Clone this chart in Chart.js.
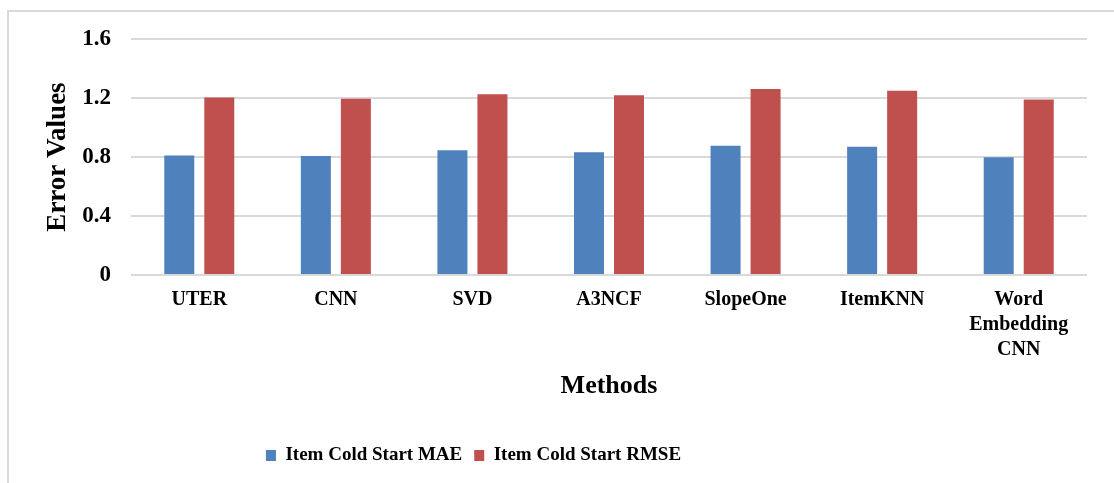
<!DOCTYPE html>
<html>
<head>
<meta charset="utf-8">
<script src="https://cdn.jsdelivr.net/npm/chart.js@4/dist/chart.umd.min.js"></script>
<style>
  html, body { margin: 0; padding: 0; background: #fff; }
  #wrap { position: relative; width: 1114px; height: 483px; overflow: hidden; }
  #frame { position: absolute; left: 7px; top: 10px; width: 1200px; height: 600px;
           border-left: 2px solid #d9d9d9; border-top: 2px solid #d9d9d9; }
  #myChart { position: absolute; left: 0; top: 0; }
</style>
</head>
<body>
<div id="wrap">
  <div id="frame"></div>
  <canvas id="myChart" width="1114" height="483"></canvas>
</div>
<script>
var methods = ['UTER', 'CNN', 'SVD', 'A3NCF', 'SlopeOne', 'ItemKNN', ['Word', 'Embedding', 'CNN']];
var mae = [0.811, 0.806, 0.845, 0.832, 0.877, 0.870, 0.798];
var rmse = [1.204, 1.195, 1.225, 1.218, 1.261, 1.250, 1.190];

var serif = "'Liberation Serif', 'Times New Roman', serif";

// legend in the original sits left of the plot centre
var legendShift = {
  id: 'legendShift',
  afterLayout: function(chart) {
    chart.legend.left -= 74;
    chart.legend.right -= 74;
  }
};

var ctx = document.getElementById("myChart");
var myChart = new Chart(ctx, {
  type: 'bar',
  data: {
    labels: methods,
    datasets: [
      {
        label: 'Item Cold Start MAE',
        data: mae,
        backgroundColor: '#4F81BD',
        categoryPercentage: 0.586,
        barPercentage: 0.75
      },
      {
        label: 'Item Cold Start RMSE',
        data: rmse,
        backgroundColor: '#C0504D',
        categoryPercentage: 0.586,
        barPercentage: 0.75
      }
    ]
  },
  options: {
    responsive: false,
    animation: false,
    layout: { padding: { left: 8, right: 27, top: 39, bottom: 8 } },
    scales: {
      x: {
        grid: { display: false, drawTicks: false },
        border: { display: false },
        ticks: {
          color: '#000',
          padding: 12,
          maxRotation: 0,
          font: { family: serif, size: 20, weight: 'bold', lineHeight: 1.25 }
        },
        title: {
          display: true,
          text: 'Methods',
          color: '#000',
          font: { family: serif, size: 26, weight: 'bold' },
          padding: { top: 0, bottom: 32 }
        },
        afterFit: function(scale) { scale.height = 159; }
      },
      y: {
        min: 0,
        max: 1.6,
        grid: { color: '#d9d9d9', lineWidth: 2, drawTicks: false },
        border: { display: false },
        ticks: {
          stepSize: 0.4,
          color: '#000',
          padding: 20,
          font: { family: serif, size: 23, weight: 'bold' },
          callback: function(v) { return v === 0 ? '0' : v.toFixed(1); }
        },
        title: {
          display: true,
          text: 'Error Values',
          color: '#000',
          font: { family: serif, size: 27, weight: 'bold' },
          padding: { top: 34, bottom: 0 }
        },
        afterFit: function(scale) { scale.width = 123; }
      }
    },
    plugins: {
      legend: {
        position: 'bottom',
        labels: {
          color: '#000',
          boxWidth: 10,
          boxHeight: 11,
          padding: 12,
          font: { family: serif, size: 19, weight: 'bold' }
        }
      },
      tooltip: { enabled: false }
    }
  },
  plugins: [legendShift]
});
</script>
</body>
</html>
